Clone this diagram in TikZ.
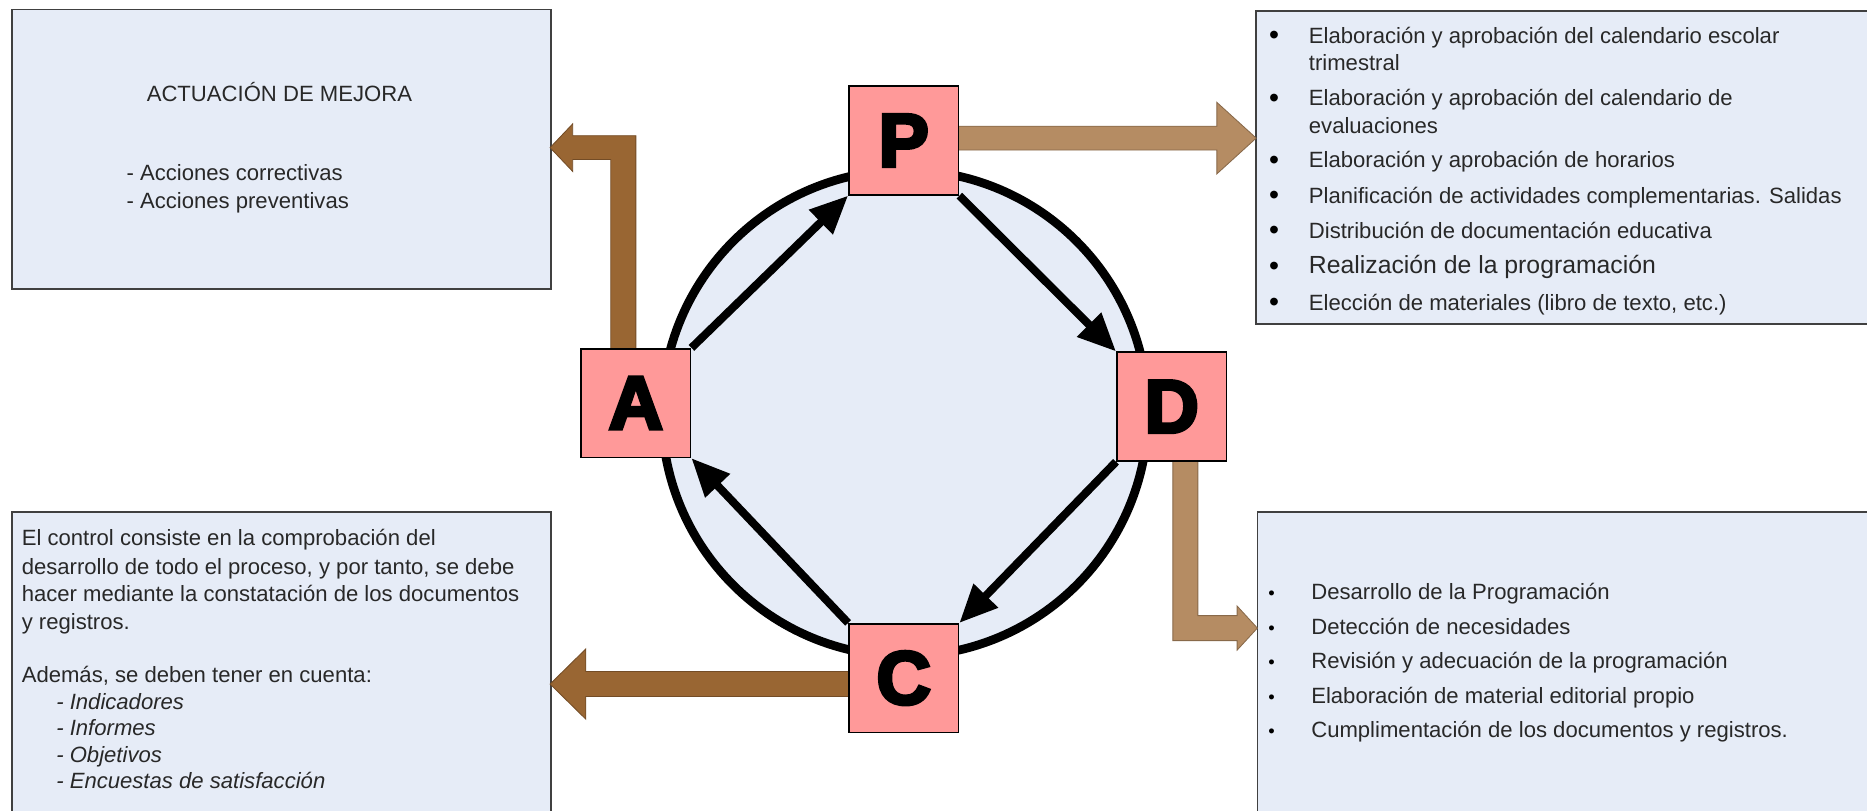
\documentclass[tikz,border=0pt]{standalone}
\usepackage{fontspec}
\setmainfont{Liberation Sans}
\newfontfamily\heavyfont[FakeBold=4.5]{Liberation Sans Bold}
\usetikzlibrary{arrows.meta}
\definecolor{boxfill}{RGB}{230,236,247}
\definecolor{boxline}{RGB}{64,64,64}
\definecolor{pinkbox}{RGB}{255,153,153}
\definecolor{darkbrown}{RGB}{153,102,51}
\definecolor{lightbrown}{RGB}{181,140,99}
\definecolor{txt}{RGB}{40,40,40}
\begin{document}
\begin{tikzpicture}[x=0.025cm,y=-0.025cm,
 infobox/.style={fill=boxfill,draw=boxline,line width=1pt},
 pdca/.style={draw=black,fill=pinkbox,line width=1pt,minimum width=2.3cm,minimum height=2.28cm,inner sep=0pt,font=\heavyfont\fontsize{45}{45}\selectfont},
 cyclearrow/.style={line width=4.8pt,-{Triangle[length=0.8cm,width=0.68cm]}},
 txtline/.style={anchor=base west,inner sep=0pt,text=txt,font=\fontsize{13.2}{16}\selectfont},
 bigline/.style={txtline,font=\fontsize{14.8}{18}\selectfont},
 itline/.style={txtline,font=\fontsize{13.2}{16}\selectfont\itshape},
 bul/.style={anchor=base,inner sep=0pt,text=black,font=\fontsize{17}{18}\selectfont},
 smallbul/.style={bul,font=\fontsize{11}{12}\selectfont},
 darkarrow/.style={fill=darkbrown,draw=darkbrown!75!black,line width=0.5pt},
 lightarrow/.style={fill=lightbrown,draw=lightbrown!75!black,line width=0.5pt}]
\useasboundingbox (0,0) rectangle (1568,681);
\clip (0,0) rectangle (1568,681);
\fill[white] (0,0) rectangle (1568,681);

% information boxes
\draw[infobox] (10,8) rectangle (463,243);
\draw[infobox] (1055,9) rectangle (1600,272);
\draw[infobox] (10,430) rectangle (463,700);
\draw[infobox] (1056,430) rectangle (1600,700);

% block arrows
\draw[darkarrow] (534,300) -- (534,114) -- (481,114) -- (481,104) -- (462,124) -- (481,144) -- (481,134) -- (513,134) -- (513,300) -- cycle;
\draw[lightarrow] (790,106) -- (1022,106) -- (1022,86) -- (1055,116) -- (1022,146) -- (1022,126) -- (790,126) -- cycle;
\draw[lightarrow] (985,380) -- (1006,380) -- (1006,517) -- (1039,517) -- (1039,509) -- (1056,527.5) -- (1039,546) -- (1039,538) -- (985,538) -- cycle;
\draw[darkarrow] (720,564) -- (492,564) -- (492,545) -- (462,574.5) -- (492,604) -- (492,585) -- (720,585) -- cycle;

% cycle circle
\coordinate (O) at (760,347);
\draw[line width=5.2pt,fill=boxfill] (O) circle[radius=5.1cm];

% PDCA boxes
\node[pdca] (P) at (759,118) {P};
\node[pdca] (A) at (534,338.5) {A};
\node[pdca] (D) at (984,341.5) {D};
\node[pdca] (C) at (759,569.5) {C};

% cycle arrows
\draw[cyclearrow] (A.north east) -- (P.south west);
\draw[cyclearrow] (P.south east) -- (D.north west);
\draw[cyclearrow] (D.south west) -- (C.north east);
\draw[cyclearrow] (C.north west) -- (A.south east);

% top-left text
\node[txtline] (tl1) at (123,85.5) {ACTUACIÓN DE MEJORA};
\node[txtline] (tl2) at (106,152) {- Acciones correctivas};
\node[txtline] (tl3) at (106,175) {- Acciones preventivas};

% top-right text
\node[bul] (trb1) at (1070,37.5) {•};
\node[txtline] (tr1) at (1099,36.3) {Elaboración y aprobación del calendario escolar};
\node[txtline] (tr1b) at (1099,59.5) {trimestral};
\node[bul] (trb2) at (1070,89.9) {•};
\node[txtline] (tr2) at (1099,88.7) {Elaboración y aprobación del calendario de};
\node[txtline] (tr2b) at (1099,112) {evaluaciones};
\node[bul] (trb3) at (1070,142) {•};
\node[txtline] (tr3) at (1099,140.8) {Elaboración y aprobación de horarios};
\node[bul] (trb4) at (1070,172) {•};
\node[txtline] (tr4) at (1099,170.8) {Planificación de actividades complementarias. Salidas};
\node[bul] (trb5) at (1070,201.4) {•};
\node[txtline] (tr5) at (1099,200.2) {Distribución de documentación educativa};
\node[bul] (trb6) at (1070,231) {•};
\node[bigline] (tr6) at (1099,229.8) {Realización de la programación};
\node[bul] (trb7) at (1070,261.6) {•};
\node[txtline] (tr7) at (1099,260.4) {Elección de materiales (libro de texto, etc.)};

% bottom-left text
\node[txtline] (bl1) at (18,458.5) {El control consiste en la comprobación del};
\node[txtline] (bl2) at (18,482.5) {desarrollo de todo el proceso, y por tanto, se debe};
\node[txtline] (bl3) at (18,505.5) {hacer mediante la constatación de los documentos};
\node[txtline] (bl4) at (18,528.5) {y registros.};
\node[txtline] (bl5) at (18,573.5) {Además, se deben tener en cuenta:};
\node[itline] (bl6) at (47,595.5) {- Indicadores};
\node[itline] (bl7) at (47,617.5) {- Informes};
\node[itline] (bl8) at (47,640.5) {- Objetivos};
\node[itline] (bl9) at (47,662.5) {- Encuestas de satisfacción};

% bottom-right text
\node[smallbul] (brb1) at (1068,503.5) {•};
\node[txtline] (br1) at (1101,503.5) {Desarrollo de la Programación};
\node[smallbul] (brb2) at (1068,532.5) {•};
\node[txtline] (br2) at (1101,532.5) {Detección de necesidades};
\node[smallbul] (brb3) at (1068,561.5) {•};
\node[txtline] (br3) at (1101,561.5) {Revisión y adecuación de la programación};
\node[smallbul] (brb4) at (1068,590.5) {•};
\node[txtline] (br4) at (1101,590.5) {Elaboración de material editorial propio};
\node[smallbul] (brb5) at (1068,619.5) {•};
\node[txtline] (br5) at (1101,619.5) {Cumplimentación de los documentos y registros.};
\end{tikzpicture}
\end{document}
